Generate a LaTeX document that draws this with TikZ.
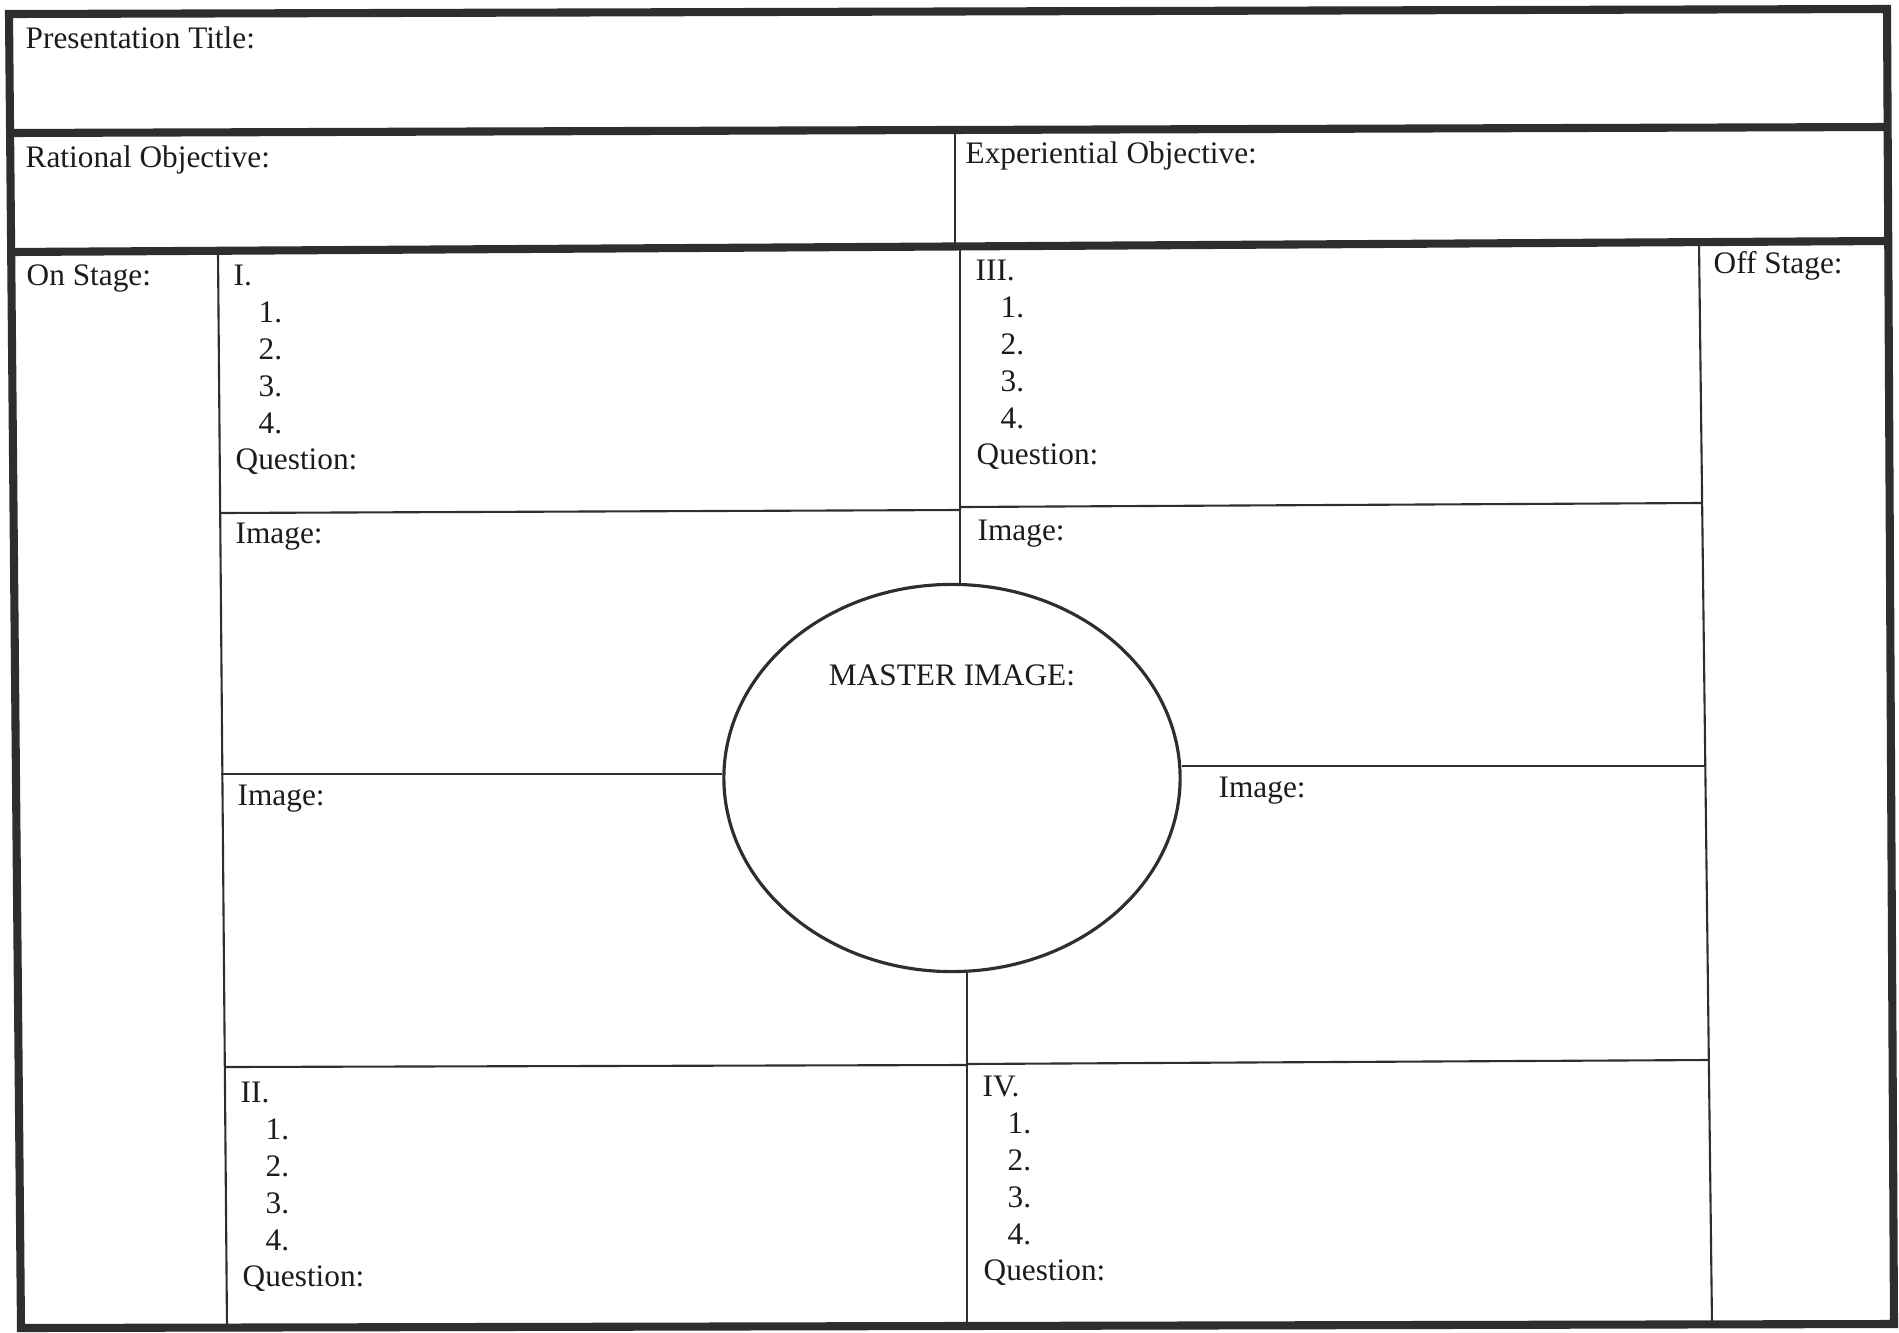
\documentclass[tikz,border=0pt]{standalone}
\usepackage{fontspec}
\setmainfont{Liberation Serif}
\usetikzlibrary{positioning, shapes.geometric, calc}

\definecolor{ink}{HTML}{2E2E2E}
\definecolor{type}{HTML}{1C1C1C}
\newcommand{\formfont}{\fontsize{8.9pt}{10pt}\selectfont}

\tikzset{
    lbl/.style={anchor=base west, inner sep=0pt, font=\formfont, text=type},
    heavyline/.style={draw=ink, line width=2.3pt, line join=miter},
    cellline/.style={draw=ink, line width=0.6pt}
}

\begin{document}
\begin{tikzpicture}[x=0.01cm, y=-0.01cm]
\useasboundingbox (0,0) rectangle (1899,1333);

% outer frame and the two top rows
\coordinate (tl) at (9,14);
\coordinate (tr) at (1887,9);
\coordinate (br) at (1894,1324);
\coordinate (bl) at (21,1328);
\draw[heavyline] (tl) -- (tr) -- (br) -- (bl) -- cycle;

\draw[heavyline] (9,133) -- (1887,127);
\draw[heavyline] (10,252) -- (1888,241);
\draw[cellline] (955,131) -- (955,247);

\node[lbl] (title) at (25,48) {Presentation Title:};
\node[lbl] (ratobj) at (25,167) {Rational Objective:};
\node[lbl] (expobj) at (965,163) {Experiential Objective:};

% stage columns
\draw[cellline] (218,252) -- (227,1328);
\draw[cellline] (1699,242) -- (1712,1324);

\node[lbl] (onstage) at (26,285) {On Stage:};
\node[lbl] (offstage) at (1713,273) {Off Stage:};

% master image
\node[ellipse, draw=ink,
        line width=0.9pt,
        inner sep=0pt,
        minimum width=4.56cm,
        minimum height=3.87cm] (master) at (952,778) {};
\node[lbl, anchor=base] (mastertxt) at ($(master.north) + (0,103)$) {MASTER IMAGE:};

\coordinate (ctop) at (960,249);
\coordinate (cbot) at (967,1326);
\coordinate (lmid) at (221,774);
\coordinate (rmid) at (1705,766);

\draw[cellline] (ctop) -- (ctop |- master.north);
\draw[cellline] (cbot |- master.south) -- (cbot);
\draw[cellline] (lmid) -- (lmid -| master.west);
\draw[cellline] (rmid -| master.east) -- (rmid);

\draw[cellline] (219,513) -- (961,510);
\draw[cellline] (961,507) -- (1701,503);
\draw[cellline] (225,1067) -- (966,1065);
\draw[cellline] (966,1064) -- (1709,1060);

\node[lbl] (imgA) at (235,543) {Image:};
\node[lbl] (imgB) at (977,540) {Image:};
\node[lbl] (imgC) at (237,805) {Image:};
\node[lbl] (imgD) at (1218,797) {Image:};

% I
\node[lbl] (I) at (233,285) {I.};
\node[lbl] (Ione) at ($(I.base west) + (25,37)$) {1.};
\node[lbl] (Itwo) at ($(Ione.base west) + (0,37)$) {2.};
\node[lbl] (Ithree) at ($(Itwo.base west) + (0,37)$) {3.};
\node[lbl] (Ifour) at ($(Ithree.base west) + (0,37)$) {4.};
\node[lbl] (Iq) at ($(Ifour.base west) + (-23,36)$) {Question:};

% III
\node[lbl] (III) at (975,280) {III.};
\node[lbl] (IIIone) at ($(III.base west) + (25,37)$) {1.};
\node[lbl] (IIItwo) at ($(IIIone.base west) + (0,37)$) {2.};
\node[lbl] (IIIthree) at ($(IIItwo.base west) + (0,37)$) {3.};
\node[lbl] (IIIfour) at ($(IIIthree.base west) + (0,37)$) {4.};
\node[lbl] (IIIq) at ($(IIIfour.base west) + (-24,36)$) {Question:};

% II
\node[lbl] (II) at (240,1102) {II.};
\node[lbl] (IIone) at ($(II.base west) + (25,37)$) {1.};
\node[lbl] (IItwo) at ($(IIone.base west) + (0,37)$) {2.};
\node[lbl] (IIthree) at ($(IItwo.base west) + (0,37)$) {3.};
\node[lbl] (IIfour) at ($(IIthree.base west) + (0,37)$) {4.};
\node[lbl] (IIq) at ($(IIfour.base west) + (-23,36)$) {Question:};

% IV
\node[lbl] (IV) at (982,1096) {IV.};
\node[lbl] (IVone) at ($(IV.base west) + (25,37)$) {1.};
\node[lbl] (IVtwo) at ($(IVone.base west) + (0,37)$) {2.};
\node[lbl] (IVthree) at ($(IVtwo.base west) + (0,37)$) {3.};
\node[lbl] (IVfour) at ($(IVthree.base west) + (0,37)$) {4.};
\node[lbl] (IVq) at ($(IVfour.base west) + (-24,36)$) {Question:};

\end{tikzpicture}
\end{document}
